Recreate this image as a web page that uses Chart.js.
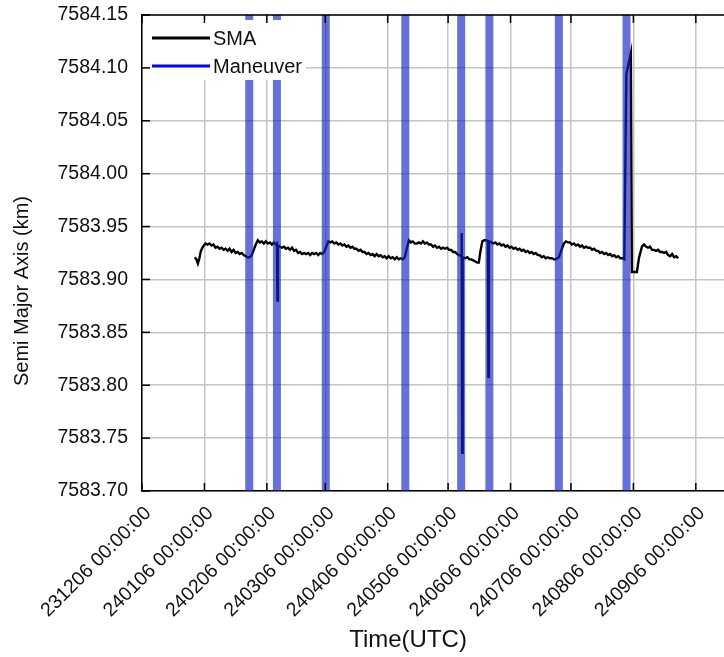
<!DOCTYPE html>
<html>
<head>
<meta charset="utf-8">
<script src="https://cdn.jsdelivr.net/npm/chart.js@4.4.1/dist/chart.umd.min.js"></script>
<style>
  html, body { margin: 0; padding: 0; background: #fff; overflow: hidden; }
  #wrap { width: 724px; height: 657px; }
</style>
</head>
<body>
<div id="wrap"><canvas id="smaChart"></canvas></div>
<script>
// SMA history (UTC time, km)
const smaSeries = [
  ['2024-01-01T06:00', 7583.921], ['2024-01-02T00:00', 7583.919], ['2024-01-02T18:00', 7583.915],
  ['2024-01-03T12:00', 7583.920], ['2024-01-04T06:00', 7583.927], ['2024-01-05T06:00', 7583.931],
  ['2024-01-06T12:00', 7583.934], ['2024-01-07T12:00', 7583.933], ['2024-01-08T12:00', 7583.934],
  ['2024-01-09T12:00', 7583.932], ['2024-01-10T12:00', 7583.933], ['2024-01-11T12:00', 7583.930],
  ['2024-01-12T12:00', 7583.931], ['2024-01-13T12:00', 7583.929], ['2024-01-14T12:00', 7583.930],
  ['2024-01-15T12:00', 7583.928], ['2024-01-16T12:00', 7583.929], ['2024-01-17T12:00', 7583.927],
  ['2024-01-18T12:00', 7583.929], ['2024-01-19T12:00', 7583.926], ['2024-01-20T12:00', 7583.928],
  ['2024-01-21T12:00', 7583.925], ['2024-01-22T12:00', 7583.926], ['2024-01-23T12:00', 7583.924],
  ['2024-01-24T12:00', 7583.925], ['2024-01-25T12:00', 7583.923], ['2024-01-26T12:00', 7583.922],
  ['2024-01-27T12:00', 7583.921], ['2024-01-28T12:00', 7583.921], ['2024-01-29T12:00', 7583.923],
  ['2024-01-30T12:00', 7583.928], ['2024-01-31T12:00', 7583.933], ['2024-02-01T12:00', 7583.937],
  ['2024-02-02T12:00', 7583.935], ['2024-02-03T12:00', 7583.936], ['2024-02-04T12:00', 7583.934],
  ['2024-02-05T12:00', 7583.936], ['2024-02-06T12:00', 7583.934], ['2024-02-07T12:00', 7583.935],
  ['2024-02-08T12:00', 7583.933], ['2024-02-09T12:00', 7583.935], ['2024-02-10T12:00', 7583.933],
  ['2024-02-11T00:00', 7583.934], ['2024-02-11T06:00', 7583.880], ['2024-02-11T12:00', 7583.932],
  ['2024-02-12T12:00', 7583.931], ['2024-02-13T12:00', 7583.930], ['2024-02-14T12:00', 7583.931],
  ['2024-02-15T12:00', 7583.929], ['2024-02-16T12:00', 7583.930], ['2024-02-17T12:00', 7583.928],
  ['2024-02-18T12:00', 7583.930], ['2024-02-19T12:00', 7583.927], ['2024-02-20T12:00', 7583.928],
  ['2024-02-21T12:00', 7583.925], ['2024-02-22T12:00', 7583.926], ['2024-02-23T12:00', 7583.924],
  ['2024-02-24T12:00', 7583.925], ['2024-02-25T12:00', 7583.924], ['2024-02-26T12:00', 7583.925],
  ['2024-02-27T12:00', 7583.923], ['2024-02-28T12:00', 7583.925], ['2024-02-29T12:00', 7583.924],
  ['2024-03-01T12:00', 7583.925], ['2024-03-02T12:00', 7583.923], ['2024-03-03T12:00', 7583.925],
  ['2024-03-04T12:00', 7583.924], ['2024-03-05T12:00', 7583.926], ['2024-03-06T12:00', 7583.931],
  ['2024-03-07T12:00', 7583.936], ['2024-03-08T12:00', 7583.935], ['2024-03-09T12:00', 7583.936],
  ['2024-03-10T12:00', 7583.934], ['2024-03-11T12:00', 7583.935], ['2024-03-12T12:00', 7583.933],
  ['2024-03-13T12:00', 7583.934], ['2024-03-14T12:00', 7583.932], ['2024-03-15T12:00', 7583.933],
  ['2024-03-16T12:00', 7583.931], ['2024-03-17T12:00', 7583.932], ['2024-03-18T12:00', 7583.930],
  ['2024-03-19T12:00', 7583.931], ['2024-03-20T12:00', 7583.929], ['2024-03-21T12:00', 7583.929],
  ['2024-03-22T12:00', 7583.927], ['2024-03-23T12:00', 7583.928], ['2024-03-24T12:00', 7583.926],
  ['2024-03-25T12:00', 7583.926], ['2024-03-26T12:00', 7583.924], ['2024-03-27T12:00', 7583.925],
  ['2024-03-28T12:00', 7583.923], ['2024-03-29T12:00', 7583.924], ['2024-03-30T12:00', 7583.922],
  ['2024-03-31T12:00', 7583.924], ['2024-04-01T12:00', 7583.922], ['2024-04-02T12:00', 7583.923],
  ['2024-04-03T12:00', 7583.921], ['2024-04-04T12:00', 7583.922], ['2024-04-05T12:00', 7583.920],
  ['2024-04-06T12:00', 7583.922], ['2024-04-07T12:00', 7583.920], ['2024-04-08T12:00', 7583.921],
  ['2024-04-09T12:00', 7583.919], ['2024-04-10T12:00', 7583.921], ['2024-04-11T12:00', 7583.919],
  ['2024-04-12T12:00', 7583.920], ['2024-04-13T12:00', 7583.919], ['2024-04-14T12:00', 7583.921],
  ['2024-04-15T12:00', 7583.929], ['2024-04-16T12:00', 7583.937], ['2024-04-17T12:00', 7583.935],
  ['2024-04-18T12:00', 7583.936], ['2024-04-19T12:00', 7583.934], ['2024-04-20T12:00', 7583.934],
  ['2024-04-21T12:00', 7583.935], ['2024-04-22T12:00', 7583.934], ['2024-04-23T12:00', 7583.936],
  ['2024-04-24T12:00', 7583.934], ['2024-04-25T12:00', 7583.935], ['2024-04-26T12:00', 7583.933],
  ['2024-04-27T12:00', 7583.933], ['2024-04-28T12:00', 7583.931], ['2024-04-29T12:00', 7583.932],
  ['2024-04-30T12:00', 7583.930], ['2024-05-01T12:00', 7583.931], ['2024-05-02T12:00', 7583.929],
  ['2024-05-03T12:00', 7583.930], ['2024-05-04T12:00', 7583.929], ['2024-05-05T12:00', 7583.930],
  ['2024-05-06T12:00', 7583.928], ['2024-05-07T12:00', 7583.928], ['2024-05-08T12:00', 7583.926],
  ['2024-05-09T12:00', 7583.926], ['2024-05-10T12:00', 7583.924], ['2024-05-11T12:00', 7583.923],
  ['2024-05-12T12:00', 7583.922], ['2024-05-12T18:00', 7583.944], ['2024-05-13T00:00', 7583.736],
  ['2024-05-13T06:00', 7583.921], ['2024-05-14T12:00', 7583.920], ['2024-05-15T12:00', 7583.921],
  ['2024-05-16T12:00', 7583.919], ['2024-05-17T12:00', 7583.919], ['2024-05-18T12:00', 7583.918],
  ['2024-05-19T12:00', 7583.917], ['2024-05-20T12:00', 7583.916], ['2024-05-21T06:00', 7583.916],
  ['2024-05-22T00:00', 7583.926], ['2024-05-23T00:00', 7583.936], ['2024-05-24T00:00', 7583.937],
  ['2024-05-25T00:00', 7583.937], ['2024-05-25T18:00', 7583.936], ['2024-05-26T00:00', 7583.808],
  ['2024-05-26T06:00', 7583.936], ['2024-05-27T12:00', 7583.935], ['2024-05-28T12:00', 7583.934],
  ['2024-05-29T12:00', 7583.935], ['2024-05-30T12:00', 7583.933], ['2024-05-31T12:00', 7583.934],
  ['2024-06-01T12:00', 7583.932], ['2024-06-02T12:00', 7583.933], ['2024-06-03T12:00', 7583.931],
  ['2024-06-04T12:00', 7583.932], ['2024-06-05T12:00', 7583.930], ['2024-06-06T12:00', 7583.931],
  ['2024-06-07T12:00', 7583.929], ['2024-06-08T12:00', 7583.930], ['2024-06-09T12:00', 7583.928],
  ['2024-06-10T12:00', 7583.929], ['2024-06-11T12:00', 7583.927], ['2024-06-12T12:00', 7583.928],
  ['2024-06-13T12:00', 7583.926], ['2024-06-14T12:00', 7583.927], ['2024-06-15T12:00', 7583.925],
  ['2024-06-16T12:00', 7583.926], ['2024-06-17T12:00', 7583.924], ['2024-06-18T12:00', 7583.925],
  ['2024-06-19T12:00', 7583.923], ['2024-06-20T12:00', 7583.923], ['2024-06-21T12:00', 7583.921],
  ['2024-06-22T12:00', 7583.922], ['2024-06-23T12:00', 7583.920], ['2024-06-24T12:00', 7583.921],
  ['2024-06-25T12:00', 7583.920], ['2024-06-26T12:00', 7583.920], ['2024-06-27T12:00', 7583.919],
  ['2024-06-28T12:00', 7583.919], ['2024-06-30T00:00', 7583.921], ['2024-07-01T12:00', 7583.929],
  ['2024-07-02T12:00', 7583.934], ['2024-07-03T12:00', 7583.936], ['2024-07-04T12:00', 7583.935],
  ['2024-07-05T12:00', 7583.935], ['2024-07-06T12:00', 7583.933], ['2024-07-07T12:00', 7583.934],
  ['2024-07-08T12:00', 7583.932], ['2024-07-09T12:00', 7583.933], ['2024-07-10T12:00', 7583.931],
  ['2024-07-11T12:00', 7583.932], ['2024-07-12T12:00', 7583.930], ['2024-07-13T12:00', 7583.931],
  ['2024-07-14T12:00', 7583.930], ['2024-07-15T12:00', 7583.930], ['2024-07-16T12:00', 7583.928],
  ['2024-07-17T12:00', 7583.929], ['2024-07-18T12:00', 7583.927], ['2024-07-19T12:00', 7583.927],
  ['2024-07-20T12:00', 7583.925], ['2024-07-21T12:00', 7583.926], ['2024-07-22T12:00', 7583.924],
  ['2024-07-23T12:00', 7583.925], ['2024-07-24T12:00', 7583.923], ['2024-07-25T12:00', 7583.924],
  ['2024-07-26T12:00', 7583.922], ['2024-07-27T12:00', 7583.923], ['2024-07-28T12:00', 7583.921],
  ['2024-07-29T12:00', 7583.922], ['2024-07-30T12:00', 7583.920], ['2024-07-31T12:00', 7583.920],
  ['2024-08-01T12:00', 7583.919], ['2024-08-02T12:00', 7584.094], ['2024-08-04T18:00', 7584.114],
  ['2024-08-05T06:00', 7583.907], ['2024-08-07T18:00', 7583.907], ['2024-08-08T18:00', 7583.920],
  ['2024-08-10T06:00', 7583.931], ['2024-08-11T06:00', 7583.933], ['2024-08-12T06:00', 7583.931],
  ['2024-08-13T06:00', 7583.930], ['2024-08-14T06:00', 7583.931], ['2024-08-15T06:00', 7583.928],
  ['2024-08-16T06:00', 7583.928], ['2024-08-17T06:00', 7583.927], ['2024-08-18T06:00', 7583.928],
  ['2024-08-19T06:00', 7583.926], ['2024-08-20T06:00', 7583.926], ['2024-08-21T06:00', 7583.925],
  ['2024-08-22T06:00', 7583.926], ['2024-08-23T06:00', 7583.923], ['2024-08-24T06:00', 7583.922],
  ['2024-08-25T06:00', 7583.924], ['2024-08-26T06:00', 7583.921], ['2024-08-27T06:00', 7583.922],
  ['2024-08-28T06:00', 7583.920]
];
const maneuverTimes = [
  '2024-01-28T06:00', '2024-02-11T00:00', '2024-03-06T06:00', '2024-04-14T18:00',
  '2024-05-12T12:00', '2024-05-26T12:00', '2024-06-30T00:00', '2024-08-02T14:00'
];
const tickDates = [
  '2023-12-06', '2024-01-06', '2024-02-06', '2024-03-06', '2024-04-06',
  '2024-05-06', '2024-06-06', '2024-07-06', '2024-08-06', '2024-09-06'
];
const xMin = '2023-12-06T00:00';
const xMax = '2024-09-20T00:00';
const yMin = 7583.70;
const yMax = 7584.15;
const yStep = 0.05;

const FONT = '"Liberation Sans", Arial, sans-serif';
const toMs = (s) => Date.parse(s + ':00Z');
const pad2 = (n) => String(n).padStart(2, '0');

function fmtTick(ms) {
  const d = new Date(ms);
  return pad2(d.getUTCFullYear() % 100) + pad2(d.getUTCMonth() + 1) + pad2(d.getUTCDate()) + ' 00:00:00';
}

const smaPoints = smaSeries.map(([t, v]) => ({x: toMs(t), y: v}));
// each maneuver is a full-height vertical stroke, broken by a null gap
const maneuverPoints = maneuverTimes.flatMap(t => [
  {x: toMs(t), y: yMin}, {x: toMs(t), y: yMax}, {x: toMs(t), y: null}
]);

function line(ctx, x1, y1, x2, y2) {
  ctx.beginPath();
  ctx.moveTo(x1, y1);
  ctx.lineTo(x2, y2);
  ctx.stroke();
}

// legend box, top frame, inward ticks and axis titles
const frameDeco = {
  id: 'frameDeco',
  afterDatasetsDraw(chart) {
    const {ctx, chartArea: a} = chart;
    const items = [
      {text: chart.data.datasets[1].label, color: '#000000'},
      {text: chart.data.datasets[0].label, color: '#0000ff'}
    ];
    ctx.save();
    ctx.fillStyle = '#ffffff';
    ctx.fillRect(a.left + 1, a.top + 5, 163, 60);
    ctx.font = '20px ' + FONT;
    ctx.textBaseline = 'middle';
    ctx.textAlign = 'left';
    items.forEach((it, i) => {
      const y = a.top + 23 + i * 28;
      ctx.strokeStyle = it.color;
      ctx.lineWidth = 3;
      line(ctx, a.left + 10, y, a.left + 68, y);
      ctx.fillStyle = '#111111';
      ctx.fillText(it.text, a.left + 71, y + 1);
    });
    ctx.restore();
  },
  afterDraw(chart) {
    const {ctx, chartArea: a} = chart;
    const xs = chart.scales.x, ys = chart.scales.y;
    ctx.save();
    ctx.strokeStyle = '#000000';
    ctx.lineWidth = 1.5;
    line(ctx, a.left, a.top, a.right, a.top);
    xs.ticks.forEach(t => {
      const px = xs.getPixelForValue(t.value);
      line(ctx, px, a.bottom, px, a.bottom - 8);
      line(ctx, px, a.top, px, a.top + 8);
    });
    ys.ticks.forEach(t => {
      const py = ys.getPixelForValue(t.value);
      line(ctx, a.left, py, a.left + 8, py);
    });

    ctx.fillStyle = '#111111';
    ctx.textAlign = 'center';
    ctx.textBaseline = 'middle';
    ctx.font = '20px ' + FONT;
    ctx.save();
    ctx.translate(22, a.top + 276);
    ctx.rotate(-Math.PI / 2);
    ctx.fillText('Semi Major Axis (km)', 0, 0);
    ctx.restore();
    ctx.font = '24px ' + FONT;
    ctx.fillText('Time(UTC)', a.left + 266, 640);
    ctx.restore();
  }
};

new Chart(document.getElementById('smaChart'), {
  type: 'line',
  data: {
    datasets: [
      {
        label: 'Maneuver',
        data: maneuverPoints,
        borderColor: 'rgba(20, 35, 195, 0.65)',
        borderWidth: 8,
        borderCapStyle: 'butt',
        pointRadius: 0,
        spanGaps: false,
      },
      {
        label: 'SMA',
        data: smaPoints,
        borderColor: '#000000',
        borderWidth: 2.4,
        pointRadius: 0,
        tension: 0,
      }
    ]
  },
  options: {
    responsive: true,
    maintainAspectRatio: false,
    animation: false,
    layout: {padding: {top: 15, right: 0, left: 0, bottom: 0}},
    plugins: {
      legend: {display: false},
      tooltip: {enabled: false},
    },
    scales: {
      x: {
        type: 'linear',
        min: toMs(xMin),
        max: toMs(xMax),
        afterBuildTicks: (scale) => {
          scale.ticks = tickDates.map(d => ({value: toMs(d + 'T00:00')}));
        },
        afterFit: (scale) => {
          scale.height = 166;
          scale.paddingLeft = 0;
          scale.paddingRight = 0;
        },
        grid: {color: '#c4c4c4', lineWidth: 1.5, drawTicks: false},
        border: {display: true, color: '#000000', width: 1.5},
        ticks: {
          autoSkip: false,
          minRotation: 45,
          maxRotation: 45,
          padding: 11,
          labelOffset: 6,
          color: '#111111',
          font: {family: FONT, size: 19.5},
          callback: (v) => fmtTick(v),
        },
      },
      y: {
        min: yMin,
        max: yMax,
        afterFit: (scale) => {
          scale.width = 142;
          scale.paddingTop = 0;
          scale.paddingBottom = 0;
        },
        grid: {color: '#c4c4c4', lineWidth: 1.5, drawTicks: false},
        border: {display: true, color: '#000000', width: 1.5},
        ticks: {
          stepSize: yStep,
          padding: 14,
          color: '#111111',
          font: {family: FONT, size: 19.5},
          callback: (v) => v.toFixed(2),
        },
      }
    }
  },
  plugins: [frameDeco]
});
</script>
</body>
</html>
